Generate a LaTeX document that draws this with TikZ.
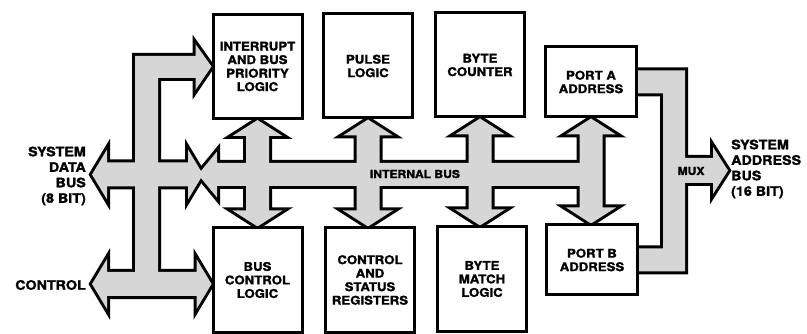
\documentclass[tikz,border=0pt]{standalone}
\usepackage{fontspec}
\setmainfont{TeX Gyre Heros}[FakeStretch=1.1,BoldFeatures={FakeBold=1.6}]
\usetikzlibrary{calc,backgrounds}
\definecolor{busgray}{gray}{0.84}

\tikzset{
  block/.style={draw,line width=3pt,fill=white,minimum width=89pt,minimum height=104pt,
    inner sep=1pt,align=center,font=\bfseries\fontsize{12}{13.5}\selectfont},
  portblock/.style={block,minimum width=91pt,minimum height=70pt},
  buslabel/.style={font=\bfseries\fontsize{13}{15.5}\selectfont,inner sep=0pt},
  bustext/.style={font=\bfseries\fontsize{11}{12}\selectfont,inner sep=0pt},
  busline/.style={draw=black,line width=6pt,line join=miter},
  busfill/.style={fill=busgray}
}

% fat double arrow, top box to bottom box
\newcommand\vbus[3]{%
  \path[#1] (#2.south) -- ++(25,16) -- ++(-13.5,0)
    -- ($(#2.south |- #3.north)+(11.5,-16)$) -- ++(13.5,0) -- (#2.south |- #3.north)
    -- ++(-25,-16) -- ++(13.5,0) -- ($(#2.south)+(-11.5,16)$) -- ++(-13.5,0) -- cycle;}
% fat double arrow, left tip to right tip
\newcommand\hbus[3]{%
  \path[#1] (#2) -- ++(15,-25) -- ++(0,13) -- ($(#3)+(-15,-12)$) -- ++(0,-13) -- (#3)
    -- ++(-15,25) -- ++(0,-13) -- ($(#2)+(15,12)$) -- ++(0,13) -- cycle;}

\newcommand\busnet[1]{%
  \vbus{#1}{intr}{busctl}
  \vbus{#1}{pulse}{ctlstat}
  \vbus{#1}{bcount}{bmatch}
  \vbus{#1}{porta}{portb}
  % internal bus
  \path[#1] (ibL) -- ++(19,-23) -- ++(0,11.5) -- ($(ibL -| porta.south)+(0,-11.5)$)
    -- ++(0,23) -- ($(ibL)+(19,11.5)$) -- ++(0,11.5) -- cycle;
  % system side
  \hbus{#1}{dbL}{dbR}
  \hbus{#1}{ctL}{ctL -| busctl.west}
  \path[#1] (146.5,284) -- (135,284) |- ($(intr.west)+(-16,-10.5)$) -- ++(0,-12)
    -- (intr.west) -- ++(-16,23.5) -- ++(0,-12) -| (158,284) -- cycle;
  % mux to address bus
  \path[#1] ($(porta.east)+(0,-11.5)$) -| (685,158) -- (713,158) -- (713,147) -- (mxR)
    -- (713,194) -- (713,183) -- (685,183) |- ($(portb.east)+(0,11.5)$) -- ++(0,-23)
    -| (663,93.5) -- ($(porta.east)+(0,11.5)$) -- cycle;
}

\begin{document}
\begin{tikzpicture}[x=1pt,y=-1pt]
\useasboundingbox (0,0) rectangle (807,334);

\node[block] (intr) at (257.5,66.5) {INTERRUPT\\AND BUS\\PRIORITY\\LOGIC};
\node[block] (pulse) at (368,66) {PULSE\\LOGIC};
\node[block] (bcount) at (480,65) {BYTE\\COUNTER};
\node[portblock] (porta) at (591,82) {PORT A\\ADDRESS};

\node[block] (busctl) at (257.5,280) {BUS\\CONTROL\\LOGIC};
\node[block] (ctlstat) at (370,280) {CONTROL\\AND\\STATUS\\REGISTERS};
\node[block] (bmatch) at (482,279) {BYTE\\MATCH\\LOGIC};
\node[portblock] (portb) at (592,260) {PORT B\\ADDRESS};

\coordinate (dbL) at (92,174.5);
\coordinate (dbR) at (203,174.5);
\coordinate (ibL) at (198,174.5);
\coordinate (ctL) at (92,284);
\coordinate (mxR) at (728,170.5);

\node[buslabel,anchor=east,align=right] (sdb) at (86,176) {SYSTEM\\DATA\\BUS\\(8 BIT)};
\node[buslabel,anchor=east] (ctl) at (86,285) {CONTROL};
\node[buslabel,anchor=west,align=left] (sab) at (731,169) {SYSTEM\\ADDRESS\\BUS\\(16 BIT)};
\node[bustext] (ibus) at (415,174) {INTERNAL BUS};
\node[bustext] (mux) at (691,171) {MUX};

\begin{scope}[on background layer]
\busnet{busline}
\busnet{busfill}
\end{scope}
\end{tikzpicture}
\end{document}
